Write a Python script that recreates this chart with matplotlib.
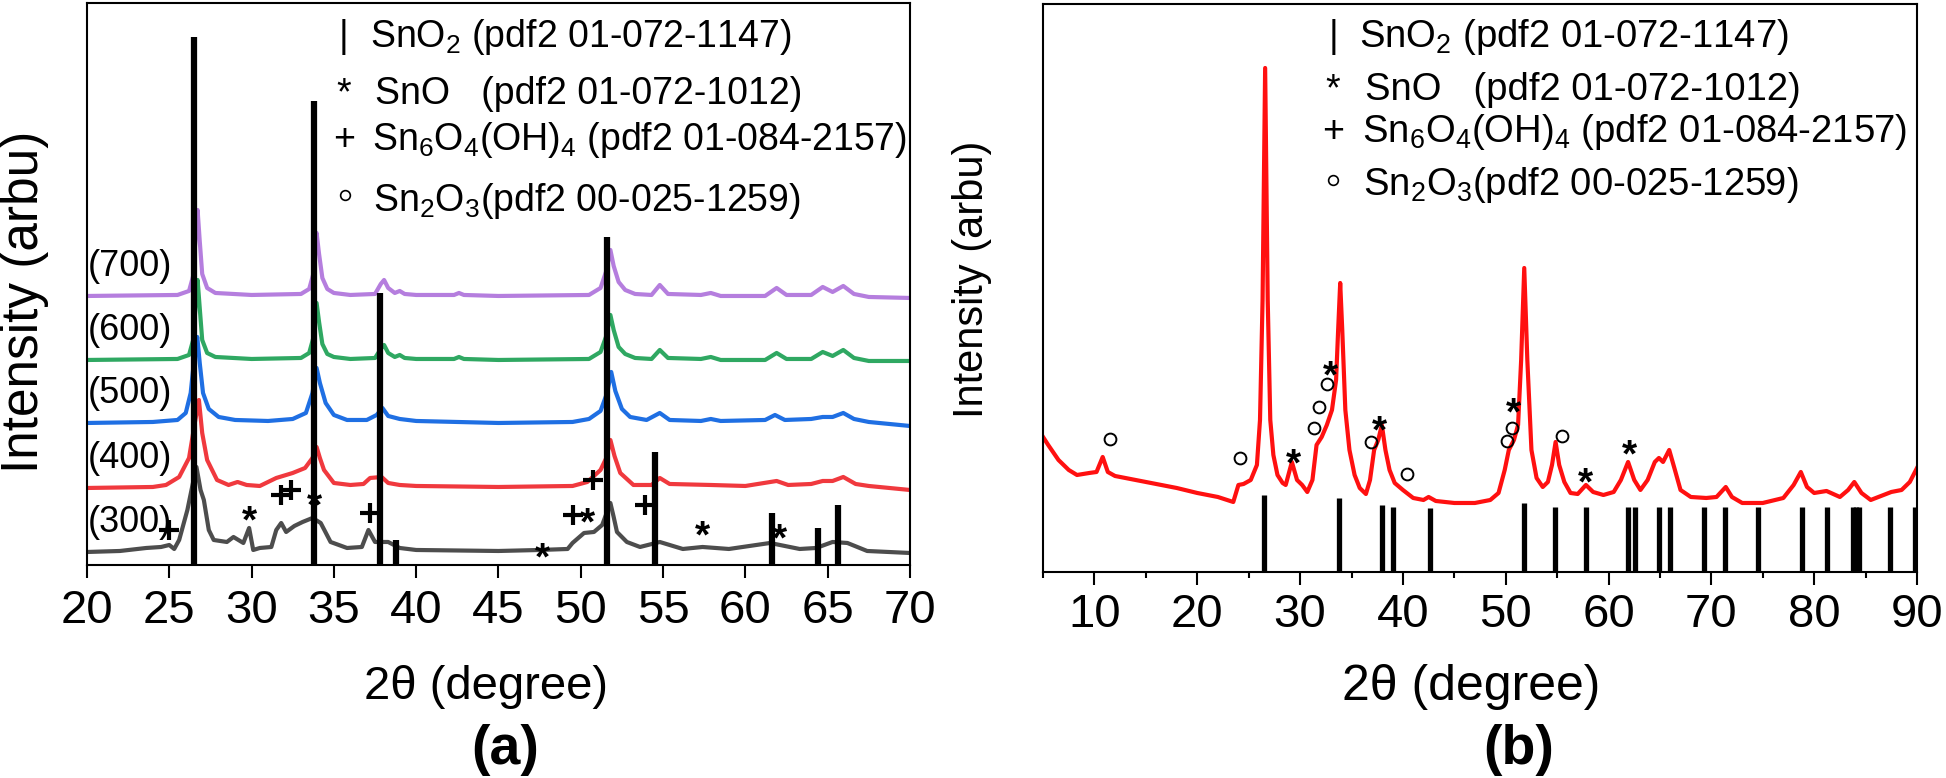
import matplotlib.pyplot as plt
from matplotlib.ticker import MultipleLocator
from matplotlib.transforms import offset_copy

plt.rcParams['font.family'] = ['Liberation Sans', 'DejaVu Sans']
plt.rcParams['mathtext.fontset'] = 'custom'
plt.rcParams['mathtext.rm'] = 'Liberation Sans'
plt.rcParams['mathtext.it'] = 'Liberation Sans:italic'
plt.rcParams['mathtext.bf'] = 'Liberation Sans:bold'

# ---- panel (a): annealed samples, (2theta, intensity above own baseline) ----
sample_labels = ['(300)', '(400)', '(500)', '(600)', '(700)']
sample_colors = ['#4d4d4d', '#f0393e', '#1f6fe3', '#2fa862', '#b57ede']
sample_offsets = [13, 77, 142, 205, 269]

pattern_300 = [(20, 0), (22, 1), (23.6, 4), (24.5, 5), (25.0, 7), (25.3, 3), (25.6, 12), (26.1, 42),
               (26.45, 70), (26.65, 85), (26.9, 62), (27.1, 52), (27.4, 22), (27.7, 12), (28.5, 10),
               (28.9, 15), (29.5, 9), (29.85, 24), (30.1, 2), (30.5, 4), (31.2, 5), (31.5, 22),
               (31.8, 29), (32.1, 20), (32.6, 26), (33.1, 30), (33.7, 34), (34.2, 29), (34.8, 10),
               (35.8, 4), (36.7, 5), (37.1, 22), (37.5, 10), (38.3, 10), (39.0, 4), (40, 2), (45, 1),
               (47.5, 2), (49.2, 3), (49.5, 9), (50.2, 19), (50.8, 20), (51.3, 27), (51.8, 49),
               (52.0, 35), (52.2, 20), (52.8, 10), (53.6, 5), (54.8, 10), (56.2, 3), (57.4, 5),
               (59, 3), (61.5, 9), (63.3, 3), (64.3, 4), (65.3, 10), (66.2, 9), (67.4, 1), (70, -1)]
pattern_400 = [(20, 0), (24, 1), (24.8, 3), (25.6, 11), (26.2, 30), (26.55, 65), (26.8, 88), (27.0, 55),
               (27.3, 28), (27.9, 8), (28.6, 3), (29.15, 6), (29.7, 3), (30.5, 2), (31.5, 10),
               (32.5, 15), (33.25, 20), (33.7, 30), (33.95, 41), (34.15, 30), (34.4, 18), (35.0, 5),
               (36.0, 3), (36.8, 4), (37.2, 10), (37.9, 11), (38.3, 5), (39, 3), (40, 2), (45, 1),
               (49.5, 2), (50.4, 6), (51.2, 18), (51.55, 30), (51.8, 48), (52.05, 32), (52.4, 15),
               (53.2, 3), (54.3, 3), (54.8, 10), (55.4, 4), (57.9, 3), (60, 2), (61.9, 7), (62.6, 3),
               (64.0, 4), (64.7, 7), (65.3, 7), (65.95, 11), (66.7, 4), (67.5, 2), (70, -2)]
pattern_500 = [(20, 0), (24, 1), (25.5, 3), (26.0, 10), (26.3, 30), (26.55, 70), (26.7, 86), (26.85, 60),
               (27.05, 30), (27.4, 14), (28.0, 6), (29, 3), (31, 2), (32.5, 4), (33.3, 10), (33.7, 30),
               (33.95, 55), (34.15, 40), (34.5, 20), (35.0, 8), (35.8, 3), (37.0, 3), (37.6, 8),
               (37.95, 15), (38.3, 7), (39.0, 4), (40, 2), (45, 0), (49.5, 1), (50.5, 4), (51.2, 12),
               (51.6, 30), (51.85, 51), (52.1, 32), (52.5, 14), (53.0, 6), (54.0, 3), (54.8, 10),
               (55.4, 3), (57.3, 2), (57.9, 4), (58.5, 2), (61.2, 3), (61.8, 8), (62.4, 3), (64.0, 4),
               (64.7, 6), (65.3, 6), (65.95, 10), (66.6, 4), (67.5, 1), (70, -3)]
pattern_600 = [(20, 0), (25.5, 1), (26.2, 5), (26.45, 20), (26.6, 55), (26.72, 80), (26.85, 52),
               (27.0, 20), (27.3, 7), (27.8, 3), (30, 1), (33.0, 2), (33.5, 7), (33.75, 22),
               (33.95, 57), (34.1, 38), (34.3, 16), (34.6, 6), (35.0, 3), (36, 1), (37.5, 2),
               (37.85, 11), (38.05, 15), (38.3, 7), (38.7, 3), (39.0, 5), (39.3, 2), (40, 1), (42.3, 1),
               (42.6, 3), (42.9, 1), (45, 0), (50.5, 1), (51.2, 8), (51.55, 24), (51.8, 45), (52.0, 30),
               (52.3, 13), (52.7, 6), (53.3, 2), (54.3, 1), (54.8, 10), (55.3, 2), (57.3, 1), (57.9, 3),
               (58.5, 0), (61.2, 0), (61.9, 7), (62.5, 1), (64.0, 1), (64.7, 8), (65.3, 4), (65.95, 10),
               (66.6, 2), (67.5, -1), (70, -1)]
pattern_700 = [(20, 0), (25.5, 1), (26.2, 5), (26.45, 20), (26.6, 60), (26.72, 86), (26.85, 55),
               (27.0, 22), (27.3, 8), (27.8, 3), (30, 1), (33.0, 2), (33.5, 7), (33.75, 22),
               (33.95, 63), (34.1, 42), (34.3, 18), (34.6, 7), (35.0, 3), (36, 1), (37.5, 2),
               (37.85, 12), (38.05, 16), (38.3, 8), (38.7, 3), (39.0, 5), (39.3, 2), (40, 1), (42.3, 1),
               (42.6, 3), (42.9, 1), (45, 0), (50.5, 1), (51.2, 8), (51.55, 25), (51.8, 46), (52.0, 30),
               (52.3, 14), (52.7, 6), (53.3, 2), (54.3, 1), (54.8, 11), (55.3, 2), (57.3, 1), (57.9, 3),
               (58.5, 0), (61.2, 0), (61.9, 8), (62.5, 1), (64.0, 1), (64.7, 9), (65.3, 4), (65.95, 10),
               (66.6, 2), (67.5, -1), (70, -2)]
patterns_a = [pattern_300, pattern_400, pattern_500, pattern_600, pattern_700]

# SnO2 reference lines drawn on panel (a)
ref_a_pos = [26.5, 33.8, 37.8, 38.8, 51.6, 54.5, 61.6, 64.4, 65.6]
ref_a_height = [528, 464, 272, 25, 328, 113, 52, 37, 60]

# phase marks on panel (a)
plus_a = [(25.0, 35), (31.8, 70), (32.4, 75), (37.2, 52), (49.5, 50), (50.75, 85), (53.9, 60)]
star_a = [(29.9, 55), (33.85, 70), (47.7, 18), (50.4, 53), (57.4, 40), (62.1, 37)]

# ---- panel (b): single pattern ----
pattern_b = [(5, 135), (5.5, 127), (6.5, 112), (7.5, 102), (8.3, 97), (9.5, 99), (10.2, 100), (10.8, 115),
             (11.3, 100), (12, 96), (15, 90), (18, 84), (20, 79), (22, 75), (23.5, 70), (24.0, 87),
             (24.5, 88), (25.2, 92), (25.8, 107), (26.1, 152), (26.35, 272), (26.6, 504), (26.85, 272),
             (27.1, 152), (27.4, 117), (27.8, 97), (28.3, 89), (28.6, 87), (29.2, 110), (29.7, 92),
             (30.2, 87), (30.7, 80), (31.2, 92), (31.6, 127), (32.1, 135), (32.6, 147), (33.1, 162),
             (33.5, 192), (33.7, 242), (33.9, 289), (34.1, 242), (34.4, 162), (34.8, 122), (35.3, 97),
             (35.8, 84), (36.4, 78), (36.8, 92), (37.2, 122), (37.6, 132), (37.95, 147), (38.3, 122),
             (38.7, 102), (39.2, 89), (40.0, 82), (41.0, 74), (42.0, 72), (42.5, 75), (43.2, 71),
             (45, 69), (47, 69), (48.5, 72), (49.3, 79), (49.9, 102), (50.3, 122), (50.8, 132),
             (51.2, 147), (51.5, 212), (51.8, 304), (52.1, 212), (52.5, 122), (53.0, 94), (53.6, 85),
             (54.1, 90), (54.5, 107), (54.85, 130), (55.2, 107), (55.7, 90), (56.3, 79), (57.0, 78),
             (57.8, 87), (58.5, 80), (59.5, 77), (60.5, 80), (61.2, 92), (61.9, 110), (62.5, 92),
             (63.1, 82), (63.8, 92), (64.5, 110), (64.9, 114), (65.3, 110), (65.9, 122), (66.4, 104),
             (67.0, 82), (68.0, 75), (69.5, 74), (70.5, 75), (71.4, 85), (72.0, 75), (73.0, 69),
             (75.0, 69), (77.0, 74), (78.0, 87), (78.7, 100), (79.3, 85), (80.0, 79), (81.2, 81),
             (82.5, 75), (83.3, 82), (83.9, 90), (84.6, 79), (85.5, 72), (86.5, 76), (87.5, 80),
             (88.5, 82), (89.3, 90), (90.0, 104)]

ref_b_pos = [26.5, 33.8, 38.0, 39.0, 42.6, 51.8, 54.8, 57.8, 61.9, 62.6, 64.9, 66.0, 69.3, 71.3,
             74.5, 78.8, 81.2, 83.8, 84.1, 84.4, 87.4, 89.8]
ref_b_height = [77, 74, 67, 65, 64, 69, 65, 65, 65, 65, 65, 65, 65, 65, 65, 65, 65, 65, 65, 65, 65, 65]

circle_b = [(11.5, 133), (24.2, 114), (31.4, 144), (31.8, 165), (32.6, 188), (36.9, 130), (40.4, 98),
            (50.1, 131), (50.6, 144), (55.5, 136)]
star_b = [(29.4, 119), (33.0, 207), (37.7, 152), (50.8, 170), (57.8, 100), (62.0, 128)]

legend_labels = ['SnO$_2$ (pdf2 01-072-1147)', 'SnO   (pdf2 01-072-1012)',
                 'Sn$_6$O$_4$(OH)$_4$ (pdf2 01-084-2157)', 'Sn$_2$O$_3$(pdf2 00-025-1259)']
legend_symbols = ['|', '*', '+']


def draw_star(fig, ax, x, y, size):
    # put the asterisk glyph centre (not its baseline) on the point
    tr = offset_copy(ax.transData, fig=fig, y=-0.57 * size, units='points')
    ax.text(x, y, '*', transform=tr, ha='center', va='baseline', fontsize=size,
            fontweight='bold', zorder=6)


def style_axes(ax):
    for sp in ax.spines.values():
        sp.set_linewidth(1.5)
    ax.set_yticks([])
    ax.tick_params(axis='x', which='major', direction='out', length=9, width=1.5,
                   labelsize=34, pad=8)
    ax.tick_params(axis='x', which='minor', direction='out', length=4.5, width=1.5)


fig = plt.figure(figsize=(19.46, 7.78), dpi=100)
ax1 = fig.add_axes([0.0447, 0.2738, 0.4229, 0.7224])
ax2 = fig.add_axes([0.5360, 0.2648, 0.4491, 0.7301])

# panel (a)
for pat, off, col, lab in zip(patterns_a, sample_offsets, sample_colors, sample_labels):
    xs = [p[0] for p in pat]
    ys = [p[1] + off for p in pat]
    ax1.plot(xs, ys, color=col, lw=3.0, zorder=2)
    ax1.text(20.05, off + 20, lab, fontsize=26, ha='left', va='baseline', zorder=5)

ax1.vlines(ref_a_pos, 0, ref_a_height, color='black', lw=4.5, zorder=4)
ax1.plot([p[0] for p in plus_a], [p[1] for p in plus_a], ls='none', marker='+',
         ms=14, mew=3, color='black', zorder=6)
for x, y in star_a:
    draw_star(fig, ax1, x, y, 28)

legend_a_y = [518, 461, 415, 354]
legend_a_textx = [37.2, 37.5, 37.3, 37.4]
for sym, y in zip(legend_symbols, legend_a_y):
    ax1.text(35.6, y, sym, fontsize=27, ha='center', va='baseline')
for lab, x, y in zip(legend_labels, legend_a_textx, legend_a_y):
    ax1.text(x, y, lab, fontsize=27, ha='left', va='baseline')
ax1.plot([35.7], [370], ls='none', marker='o', ms=7, mfc='none', mec='black', mew=1.2)

ax1.set_xlim(20, 70)
ax1.set_ylim(0, 562)
ax1.xaxis.set_major_locator(MultipleLocator(5))
style_axes(ax1)

# panel (b)
ax2.plot([p[0] for p in pattern_b], [p[1] for p in pattern_b], color='#ff1010', lw=3.0, zorder=2)
ax2.vlines(ref_b_pos, 0, ref_b_height, color='black', lw=3.8, zorder=4)
ax2.plot([p[0] for p in circle_b], [p[1] for p in circle_b], ls='none', marker='o', ms=8.5,
         mfc='none', mec='black', mew=1.4, zorder=6)
for x, y in star_b:
    draw_star(fig, ax2, x, y, 28)

legend_b_y = [525, 472, 430, 377]
legend_b_textx = [35.7, 36.35, 36.05, 36.15]
for sym, y in zip(legend_symbols, legend_b_y):
    ax2.text(33.2, y, sym, fontsize=27, ha='center', va='baseline')
for lab, x, y in zip(legend_labels, legend_b_textx, legend_b_y):
    ax2.text(x, y, lab, fontsize=27.5, ha='left', va='baseline')
ax2.plot([33.2], [392], ls='none', marker='o', ms=7, mfc='none', mec='black', mew=1.2)

ax2.set_xlim(5, 90)
ax2.set_ylim(0, 568)
ax2.xaxis.set_major_locator(MultipleLocator(10))
ax2.xaxis.set_minor_locator(MultipleLocator(5))
style_axes(ax2)
ax2.tick_params(axis='x', which='major', pad=6)

# axis titles and panel tags
W, H = 1946, 778
fig.text(25 / W, 1 - 302 / H, 'Intensity (arbu)', rotation=90, fontsize=37,
         ha='center', va='center')
fig.text(972 / W, 1 - 279 / H, 'Intensity (arbu)', rotation=90, fontsize=30,
         ha='center', va='center')
fig.text(486 / W, 1 - 687 / H, '2\u03b8 (degree)', fontsize=34, ha='center', va='center')
fig.text(1471 / W, 1 - 687 / H, '2\u03b8 (degree)', fontsize=36, ha='center', va='center')
fig.text(505 / W, 1 - 750 / H, '(a)', fontsize=40, fontweight='bold', ha='center', va='center')
fig.text(1519 / W, 1 - 750 / H, '(b)', fontsize=40, fontweight='bold', ha='center', va='center')

fig.savefig('out.png', dpi=100)
